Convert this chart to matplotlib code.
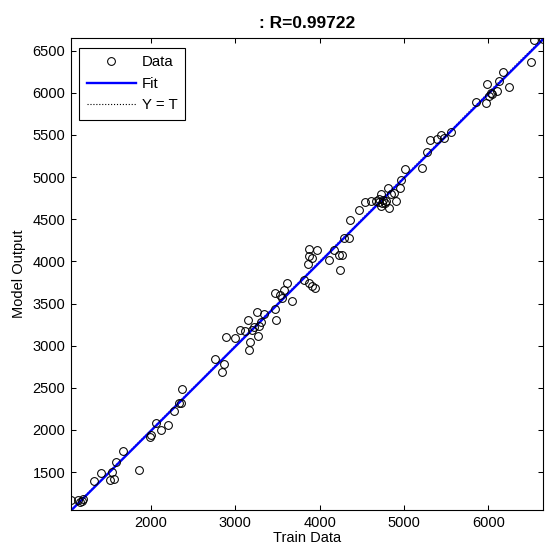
#!/usr/bin/env python3
"""
Regression plot: model output vs. train data with a linear fit and Y = T reference.
"""

import numpy as np
import matplotlib
matplotlib.use("Agg")
import matplotlib.pyplot as plt

plt.rcParams['font.family'] = ['Liberation Sans', 'DejaVu Sans']

TITLE = ': R=0.99722'

# Target values (x)
train_data = [
    1050, 1130, 1157, 1177, 1197, 1327, 1407, 1514, 1561, 1534,
    1581, 1672, 1858, 1989, 2000, 2060, 2116, 2195, 2267, 2334,
    2354, 2366, 2761, 2860, 2841, 2890, 3000, 3050, 3118, 3157,
    3170, 3150, 3197, 3257, 3277, 3265, 3308, 3340, 3475, 3475,
    3480, 3534, 3573, 3673, 3610, 3553, 3217, 3811, 3870, 3910,
    3950, 3863, 3879, 3870, 3969, 3910, 4239, 4108, 4168, 4227,
    4267, 4286, 4346, 4366, 4464, 4544, 4604, 4663, 4703, 4743,
    4782, 4810, 4822, 4723, 4881, 4901, 4841, 4952, 4960, 5008,
    5218, 5277, 5308, 5396, 5435, 5475, 5554, 5851, 5970, 5990,
    6010, 6030, 6050, 6109, 6129, 6180, 6247, 6513, 6544, 6650,
    4700, 4750, 4770, 4730,
]

# Model outputs (y) for the same samples
model_output = [
    1170, 1170, 1150, 1160, 1175, 1395, 1493, 1407, 1418, 1505,
    1624, 1751, 1525, 1921, 1940, 2080, 2001, 2053, 2227, 2318,
    2318, 2484, 2841, 2785, 2686, 3102, 3091, 3185, 3170, 2950,
    3040, 3310, 3189, 3400, 3229, 3120, 3276, 3380, 3625, 3435,
    3300, 3605, 3665, 3526, 3744, 3566, 3221, 3784, 3744, 3704,
    3685, 3973, 4060, 4148, 4130, 4041, 3894, 4021, 4140, 4081,
    4081, 4279, 4279, 4488, 4614, 4702, 4714, 4714, 4743, 4695,
    4714, 4873, 4635, 4794, 4814, 4714, 4794, 4873, 4960, 5090,
    5110, 5296, 5439, 5447, 5495, 5467, 5534, 5891, 5883, 6101,
    5962, 6002, 5982, 6022, 6140, 6248, 6074, 6366, 6628, 6640,
    4700, 4730, 4690, 4660,
]

X_TICKS = [2000, 3000, 4000, 5000, 6000]
Y_TICKS = [1500, 2000, 2500, 3000, 3500, 4000, 4500, 5000, 5500, 6000, 6500]


def main():
    t = np.array(train_data, dtype=float)
    y = np.array(model_output, dtype=float)

    # Same limits on both axes, like MATLAB's plotregression
    lim = [min(t.min(), y.min()), max(t.max(), y.max())]

    fig = plt.figure(figsize=(5.45, 5.51), dpi=100)
    ax = fig.add_axes([71 / 545, 41 / 551, 472 / 545, 472 / 551])

    m, b = np.polyfit(t, y, 1)
    fit_x = np.array(lim)

    ax.plot(t, y, 'o', markerfacecolor='none', markeredgecolor='black',
            markersize=5.6, markeredgewidth=0.75, label='Data', zorder=3)
    ax.plot(fit_x, m * fit_x + b, color='#0000ff', linewidth=1.7, label='Fit', zorder=2)
    ax.plot(lim, lim, color='black', linestyle=':', linewidth=0.8, label='Y = T', zorder=1)

    ax.set_xlim(lim)
    ax.set_ylim(lim)
    ax.set_xticks(X_TICKS)
    ax.set_yticks(Y_TICKS)
    ax.tick_params(direction='in', top=True, right=True, length=3.8, width=0.75,
                   labelsize=10.5, pad=4, colors='black')
    for spine in ax.spines.values():
        spine.set_linewidth(0.8)

    ax.set_title(TITLE, fontsize=12.5, fontweight='bold', pad=7)
    ax.set_xlabel('Train Data', fontsize=10.5, labelpad=1)
    ax.set_ylabel('Model Output', fontsize=10.5, labelpad=5)

    leg = ax.legend(loc='upper left', bbox_to_anchor=(0.017, 0.979), borderaxespad=0,
                    fontsize=10.8, handlelength=3.3, handletextpad=0.4, labelspacing=0.5,
                    borderpad=0.5, fancybox=False, framealpha=1)
    leg.get_frame().set_edgecolor('black')
    leg.get_frame().set_linewidth(0.8)

    fig.savefig('out.png', dpi=100)


if __name__ == '__main__':
    main()
